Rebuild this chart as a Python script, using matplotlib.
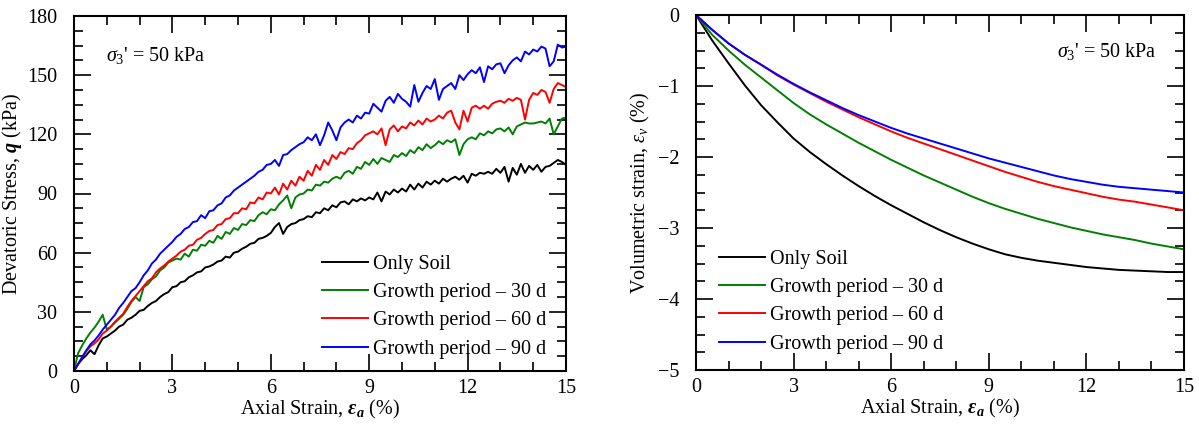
import matplotlib
matplotlib.use('Agg')
import matplotlib.pyplot as plt
from matplotlib.ticker import MultipleLocator

plt.rcParams['font.family'] = 'Liberation Serif'
plt.rcParams['mathtext.fontset'] = 'custom'
plt.rcParams['mathtext.rm'] = 'Liberation Serif'
plt.rcParams['mathtext.it'] = 'Liberation Serif:italic'
plt.rcParams['mathtext.bf'] = 'Liberation Serif:bold'
plt.rcParams['mathtext.bfit'] = 'Liberation Serif:italic:bold'
for a in ('xtick', 'ytick'):
    plt.rcParams[a + '.direction'] = 'in'
    plt.rcParams[a + '.color'] = 'black'
    plt.rcParams[a + '.major.size'] = 12
    plt.rcParams[a + '.minor.size'] = 6.5
    plt.rcParams[a + '.major.width'] = 1.2
    plt.rcParams[a + '.minor.width'] = 1.2
plt.rcParams['xtick.top'] = True
plt.rcParams['ytick.right'] = True

# ---------------- data ----------------
labels = ['Only Soil', 'Growth period \u2013 30 d', 'Growth period \u2013 60 d', 'Growth period \u2013 90 d']
colors = ['black', '#008000', '#ff0000', '#0000ff']

# left panel: deviatoric stress q (kPa) read every 0.125 % axial strain (8 values per 1 %)
q_soil = [0, 3.5, 6, 8, 10.5, 8.5, 13, 16.5,
          17.5, 19, 20.5, 22.5, 23.5, 26, 27, 28.5,
          30.5, 31, 33, 34.5, 35.5, 37.5, 39, 40,
          42.5, 43, 45, 45.5, 47.5, 48.5, 50, 50.5,
          52.5, 53, 54, 55.5, 56, 58, 57.5, 60,
          60.5, 62, 63, 64.5, 65, 67, 67.5, 68.5,
          70, 73, 75, 69.5, 73, 74.5, 75, 76.5,
          77, 78.5, 78, 80.5, 80, 82.5, 81.5, 84,
          83, 85.5, 86, 84.5, 87, 86, 87.5, 86.5,
          88, 87, 90.5, 86, 91, 89.5, 92, 90.5,
          92.5, 91, 94.5, 92, 95, 93, 96, 94.5,
          96.5, 95, 97.5, 96, 97.5, 98.5, 97, 99,
          95.5, 100, 99, 100.5, 100, 101, 100, 102.5,
          100.5, 103.5, 96, 103, 99.5, 105, 100.5, 104,
          102, 104.5, 101, 103.5, 104, 105.5, 107, 106,
          104.5]
q_30d = [0, 9, 13, 16.5, 19.5, 22, 25, 28.5,
         21, 22.5, 24.5, 26.5, 28.5, 31.5, 35, 37.5,
         35.5, 42.5, 44, 46.5, 48, 51, 52.5, 55,
         56, 57, 56.5, 59.5, 58, 61.5, 61, 64,
         63.5, 66, 65, 68.5, 67, 70.5, 69.5, 72.5,
         71.5, 74.5, 74, 76.5, 76, 79, 80.5, 79.5,
         82, 81.5, 84.5, 86.5, 89, 82.5, 88, 89.5,
         90, 92, 91.5, 94.5, 94, 96, 95.5, 97.5,
         98.5, 97.5, 100.5, 101.5, 100, 103.5, 102.5, 106,
         104.5, 107.5, 105, 108, 107, 106, 109.5, 108.5,
         110.5, 109, 112, 110.5, 113.5, 112, 115, 113,
         114.5, 116.5, 115, 117, 116, 117.5, 109.5, 115,
         117.5, 118.5, 117.5, 120.5, 119.5, 121.5, 120.5, 122.5,
         123, 121.5, 123.5, 120, 124, 125, 126, 125.5,
         125.5, 126, 126.5, 125.5, 128, 120, 124, 128,
         128.5]
q_60d = [0, 3.5, 7, 10, 12.5, 14, 16, 19,
         20.5, 22.5, 25, 27, 29, 32.5, 35.5, 38,
         40.5, 43, 45.5, 47, 50, 52, 53.5, 55.5,
         57, 58.5, 60.5, 61.5, 63.5, 64, 66.5, 67.5,
         69.5, 71, 71.5, 74, 74.5, 77, 77.5, 80,
         80, 82.5, 82, 85.5, 85, 88, 87, 90.5,
         90, 93, 89.5, 95, 92, 96.5, 94, 98.5,
         96.5, 101.5, 99, 104.5, 102, 107, 104.5, 109.5,
         107.5, 111, 110, 113, 112.5, 115.5, 117, 119.5,
         120.5, 121.5, 120, 123, 114.5, 122.5, 124.5, 121.5,
         124, 123, 126, 124.5, 127, 125, 128, 126.5,
         127.5, 129.5, 128, 131, 132, 126, 122.5, 132,
         126.5, 133.5, 134.5, 133, 134.5, 133, 135.5, 136.5,
         137, 136, 138, 137, 138.5, 137.5, 127.5, 137.5,
         141, 140, 142.5, 141.5, 136, 143, 146, 145,
         144]
q_90d = [0, 3.5, 7, 10.5, 13.5, 15.5, 18, 21,
         23.5, 26, 28.5, 32, 34.5, 37.5, 40.5, 42,
         45, 48.5, 51, 54.5, 56.5, 59.5, 61.5, 63.5,
         65.5, 68, 69.5, 72, 73, 75.5, 76, 79,
         77.5, 81, 81.5, 84, 85, 88, 89, 91.5,
         93, 94.5, 96, 97.5, 99, 101, 102, 104.5,
         105, 107, 104, 109.5, 110, 112, 113.5, 115,
         116, 118.5, 117, 120, 114.5, 119.5, 126, 122,
         117, 123.5, 126, 127.5, 126, 129.5, 128, 131,
         130.5, 135.5, 133.5, 131.5, 137, 139, 136, 140.5,
         138, 136.5, 134, 145, 136.5, 141, 144.5, 143,
         148, 137.5, 143, 144.5, 146, 143, 150, 147.5,
         150.5, 152.5, 151, 154, 146.5, 154.5, 153, 155.5,
         156, 151, 155, 157.5, 159, 157, 162, 160.5,
         163, 162, 164.5, 163.5, 154.5, 157, 165.5, 164,
         164.5]
strain_q = [i * 0.125 for i in range(len(q_soil))]

# right panel: volumetric strain (%) read every 0.5 % axial strain
strain_v = [i * 0.5 for i in range(31)]
ev_soil = [0, -0.36, -0.68, -0.99, -1.27, -1.51, -1.74, -1.93, -2.10, -2.26, -2.41, -2.55,
           -2.68, -2.80, -2.92, -3.03, -3.13, -3.22, -3.30, -3.37, -3.42, -3.46, -3.49,
           -3.52, -3.55, -3.57, -3.59, -3.60, -3.61, -3.62, -3.62]
ev_30d = [0, -0.28, -0.50, -0.70, -0.88, -1.06, -1.24, -1.40, -1.54, -1.67, -1.80, -1.92,
          -2.04, -2.15, -2.26, -2.36, -2.46, -2.56, -2.65, -2.73, -2.80, -2.87, -2.93,
          -2.99, -3.04, -3.09, -3.13, -3.17, -3.22, -3.26, -3.30]
ev_60d = [0, -0.21, -0.40, -0.56, -0.70, -0.85, -0.98, -1.10, -1.22, -1.33, -1.44, -1.54,
          -1.64, -1.73, -1.81, -1.89, -1.97, -2.05, -2.13, -2.21, -2.28, -2.35, -2.41,
          -2.46, -2.51, -2.56, -2.60, -2.63, -2.67, -2.71, -2.75]
ev_90d = [0, -0.21, -0.40, -0.56, -0.70, -0.84, -0.97, -1.09, -1.20, -1.31, -1.41, -1.50,
          -1.59, -1.67, -1.74, -1.81, -1.88, -1.95, -2.02, -2.08, -2.14, -2.20, -2.26,
          -2.31, -2.35, -2.39, -2.42, -2.44, -2.46, -2.48, -2.50]

FS = 14.5

fig = plt.figure(figsize=(11.99, 4.34), dpi=100)
ax1 = fig.add_axes([74 / 1199, 1 - 371 / 434, (566 - 74) / 1199, (371 - 16) / 434])
ax2 = fig.add_axes([696 / 1199, 1 - 370 / 434, (1184 - 696) / 1199, (370 - 15) / 434])

for ys, c, lab in zip([q_soil, q_30d, q_60d, q_90d], colors, labels):
    ax1.plot(strain_q, ys, color=c, lw=1.4, label=lab)
for ys, c, lab in zip([ev_soil, ev_30d, ev_60d, ev_90d], colors, labels):
    ax2.plot(strain_v, ys, color=c, lw=1.4, label=lab)

ax1.set_xlim(0, 15)
ax1.set_ylim(0, 180)
ax1.xaxis.set_major_locator(MultipleLocator(3))
ax1.xaxis.set_minor_locator(MultipleLocator(1))
ax1.yaxis.set_major_locator(MultipleLocator(30))
ax1.yaxis.set_minor_locator(MultipleLocator(7.5))

ax2.set_xlim(0, 15)
ax2.set_ylim(-5, 0)
ax2.xaxis.set_major_locator(MultipleLocator(3))
ax2.xaxis.set_minor_locator(MultipleLocator(1))
ax2.yaxis.set_major_locator(MultipleLocator(1))
ax2.yaxis.set_minor_locator(MultipleLocator(0.25))

for ax in (ax1, ax2):
    for s in ax.spines.values():
        s.set_linewidth(1.5)
    ax.tick_params(which='both', direction='in', top=True, right=True, bottom=True, left=True,
                   labelsize=FS, width=1.2, color='black')
    ax.tick_params(which='major', length=12)
    ax.tick_params(which='minor', length=6.5)
    ax.tick_params(axis='x', which='major', pad=6)
    ax.tick_params(axis='y', which='major', pad=12)
    ax.set_xlabel(r'Axial Strain, $\mathbfit{\varepsilon_a}$ (%)', fontsize=FS, labelpad=0)

ax1.set_ylabel(r'Devatoric Stress, $\mathbfit{q}$ (kPa)', fontsize=FS, labelpad=2)
ax2.set_ylabel(r'Volumetric strain, $\varepsilon_v$ (%)', fontsize=FS, labelpad=4)

leg_kw = dict(frameon=False, fontsize=FS, loc='upper left', borderaxespad=0, borderpad=0,
              handlelength=2.3, handletextpad=0.25, labelspacing=0.45)
ax1.legend(bbox_to_anchor=(322 / 1199, 1 - 255 / 434), bbox_transform=fig.transFigure, **leg_kw)
ax2.legend(bbox_to_anchor=(719 / 1199, 1 - 250 / 434), bbox_transform=fig.transFigure, **leg_kw)

fig.text(106 / 1199, 1 - 55 / 434, r"$\sigma_3$' = 50 kPa", fontsize=FS, va='center', ha='left')
fig.text(1057 / 1199, 1 - 51 / 434, r"$\sigma_3$' = 50 kPa", fontsize=FS, va='center', ha='left')

fig.savefig('out.png', dpi=100)
